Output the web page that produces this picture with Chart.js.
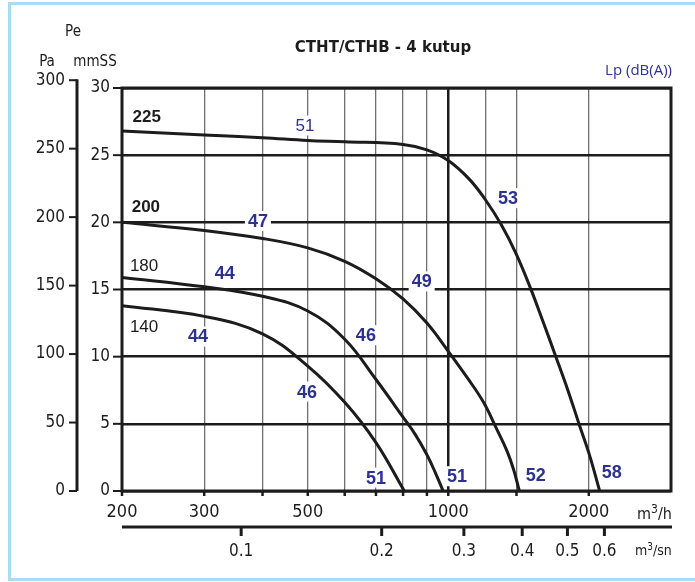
<!DOCTYPE html>
<html>
<head>
<meta charset="utf-8">
<title>CTHT/CTHB - 4 kutup</title>
<script src="https://cdn.jsdelivr.net/npm/chart.js@4.4.1/dist/chart.umd.min.js"></script>
<style>
  body { margin: 0; background: #fff; }
  canvas { display: block; }
</style>
</head>
<body>
<canvas id="fanChart" width="695" height="582"></canvas>
<script>
// axis ticks
var flowTicks = [200, 300, 400, 500, 600, 700, 800, 900, 1000, 1200, 1400, 2000, 3000];
var flowLabels = [200, 300, 500, 1000, 2000];
var mmssTicks = [0, 5, 10, 15, 20, 25, 30];
var paTicks = [0, 50, 100, 150, 200, 250, 300];
var secTicks = [0.1, 0.2, 0.3, 0.4, 0.5, 0.6];

// fan curves: flow in m3/h, pressure in mmSS
var flow225 = [200, 300, 400, 500, 600, 800, 900, 1000, 1110, 1200, 1300, 1400, 1500, 1600, 1700, 1800, 1910, 2010, 2110];
var pres225 = [26.8, 26.5, 26.3, 26.1, 26.0, 25.8, 25.4, 24.6, 23.2, 21.7, 19.8, 17.6, 15.1, 12.5, 10.0, 7.6, 4.9, 2.6, 0];
var flow200 = [200, 300, 400, 500, 600, 700, 800, 900, 1000, 1100, 1190, 1270, 1335, 1380, 1420];
var pres200 = [20.0, 19.4, 18.8, 18.1, 17.1, 15.8, 14.3, 12.5, 10.4, 8.4, 6.6, 4.6, 3.0, 1.6, 0];
var flow180 = [200, 300, 400, 500, 600, 700, 800, 850, 900, 940, 975];
var pres180 = [15.9, 15.2, 14.5, 13.4, 11.3, 8.3, 5.5, 4.2, 2.7, 1.3, 0];
var flow140 = [200, 300, 400, 500, 600, 700, 805];
var pres140 = [13.8, 13.0, 11.7, 9.3, 6.6, 3.6, 0];

// curve names and where they sit
var sizeNames = ["225", "200", "180", "140"];
var sizeFlow = [226, 225, 223, 223];
var sizePres = [27.85, 21.1, 16.75, 12.2];

// sound levels Lp dB(A) along the curves
var dbText = ["51", "47", "44", "44", "46", "46", "49", "53", "51", "51", "52", "58"];
var dbFlow = [493, 391, 332, 291, 498, 666, 877, 1342, 700, 1044, 1540, 2240];
var dbPres = [27.2, 20.1, 16.2, 11.5, 7.4, 11.6, 15.6, 21.8, 1.0, 1.1, 1.2, 1.4];

var PA_PER_MMSS = 9.81;
var M3H_PER_M3S = 3600;

var NARROW = "'DejaVu Sans Condensed', 'Liberation Sans Narrow', 'Liberation Sans', sans-serif";
var INK = "#1c1c1c";
var BLUE = "#2d3190";

function toPoints(xs, ys) {
  return xs.map(function (x, i) { return { x: x, y: ys[i] }; });
}

function drawUnit(ctx, x, y, base, sup, rest, size) {
  ctx.textAlign = "left";
  ctx.textBaseline = "alphabetic";
  ctx.font = size + "px " + NARROW;
  ctx.fillText(base, x, y);
  x += ctx.measureText(base).width;
  ctx.font = Math.round(size * 0.72) + "px " + NARROW;
  ctx.fillText(sup, x, y - size * 0.38);
  x += ctx.measureText(sup).width;
  ctx.font = size + "px " + NARROW;
  ctx.fillText(rest, x, y);
}

var decor = {
  id: "decor",
  beforeDraw: function (chart) {
    var ctx = chart.ctx;
    ctx.save();
    ctx.fillStyle = "#fff";
    ctx.fillRect(0, 0, chart.width, chart.height);
    ctx.strokeStyle = "#a6dcf4";
    ctx.lineWidth = 3;
    ctx.strokeRect(9.5, 3.5, 720, 576);
    ctx.restore();
  },
  beforeDatasetsDraw: function (chart) {
    // dB labels sit on a white patch that cuts the grid
    var ctx = chart.ctx, x = chart.scales.x, y = chart.scales.y;
    ctx.save();
    ctx.textAlign = "center";
    ctx.textBaseline = "middle";
    dbText.forEach(function (t, i) {
      var px = x.getPixelForValue(dbFlow[i]);
      var py = y.getPixelForValue(dbPres[i]);
      ctx.font = (i === 0 ? "17px " : "bold 18px ") + "Arial, 'Liberation Sans', sans-serif";
      var w = ctx.measureText(t).width;
      ctx.fillStyle = "#fff";
      ctx.fillRect(px - w / 2 - 3, py - 10, w + 6, 20);
      ctx.fillStyle = BLUE;
      ctx.fillText(t, px, py + 1);
    });
    ctx.restore();
  },
  afterDatasetsDraw: function (chart) {
    var ctx = chart.ctx, ca = chart.chartArea;
    var x = chart.scales.x, y = chart.scales.y;
    ctx.save();
    ctx.strokeStyle = INK;
    ctx.fillStyle = INK;

    // plot frame
    ctx.lineWidth = 3;
    ctx.strokeRect(ca.left, ca.top, ca.right - ca.left, ca.bottom - ca.top);

    // mmSS axis ticks + labels
    ctx.font = "17px " + NARROW;
    ctx.textAlign = "right";
    ctx.textBaseline = "middle";
    mmssTicks.forEach(function (v) {
      var py = y.getPixelForValue(v);
      ctx.lineWidth = 2;
      ctx.beginPath();
      ctx.moveTo(ca.left - 9, py);
      ctx.lineTo(ca.left, py);
      ctx.stroke();
      ctx.fillText(String(v), ca.left - 12, py);
    });

    // Pa axis, drawn apart on the left
    var paX = 77;
    var paTop = y.getPixelForValue(300 / PA_PER_MMSS);
    ctx.lineWidth = 3;
    ctx.beginPath();
    ctx.moveTo(paX, paTop - 1);
    ctx.lineTo(paX, ca.bottom);
    ctx.stroke();
    paTicks.forEach(function (v) {
      var py = y.getPixelForValue(v / PA_PER_MMSS);
      ctx.lineWidth = 2;
      ctx.beginPath();
      ctx.moveTo(paX - 8, py);
      ctx.lineTo(paX, py);
      ctx.stroke();
      ctx.fillText(String(v), paX - 12, py);
    });

    // flow axis (m3/h) tick marks + labels
    flowTicks.forEach(function (v) {
      if (v === 3000 || v === 1200) return;
      var px = x.getPixelForValue(v);
      ctx.lineWidth = 2.5;
      ctx.beginPath();
      ctx.moveTo(px, ca.bottom);
      ctx.lineTo(px, ca.bottom + 5);
      ctx.stroke();
    });
    ctx.font = "18px " + NARROW;
    ctx.textAlign = "center";
    flowLabels.forEach(function (v) {
      ctx.fillText(String(v), x.getPixelForValue(v), ca.bottom + 21);
    });
    drawUnit(ctx, 637, 519, "m", "3", "/h", 16);

    // second flow axis (m3/sn)
    var secY = 527;
    ctx.lineWidth = 3;
    ctx.beginPath();
    ctx.moveTo(ca.left, secY);
    ctx.lineTo(ca.right + 1, secY);
    ctx.stroke();
    ctx.font = "17px " + NARROW;
    ctx.textAlign = "center";
    ctx.textBaseline = "middle";
    secTicks.forEach(function (v) {
      var px = x.getPixelForValue(v * M3H_PER_M3S);
      ctx.lineWidth = 3;
      ctx.beginPath();
      ctx.moveTo(px, secY);
      ctx.lineTo(px, secY + 9);
      ctx.stroke();
      ctx.fillText(String(v), px, secY + 25);
    });
    drawUnit(ctx, 635, 555, "m", "3", "/sn", 14);

    // curve names
    ctx.textAlign = "center";
    ctx.textBaseline = "middle";
    sizeNames.forEach(function (t, i) {
      ctx.font = (i < 2 ? "bold 17px " : "17px ") + "Arial, 'Liberation Sans', sans-serif";
      ctx.fillText(t, x.getPixelForValue(sizeFlow[i]), y.getPixelForValue(sizePres[i]));
    });

    // headers
    ctx.font = "15px " + NARROW;
    ctx.fillText("Pe", 73, 32);
    ctx.fillText("Pa", 47, 62);
    ctx.fillText("mmSS", 95, 62);
    ctx.font = "bold 15px 'DejaVu Sans', Verdana, sans-serif";
    ctx.fillText("CTHT/CTHB - 4 kutup", 383, 48);
    ctx.font = "15px 'Open Sans', 'DejaVu Sans', sans-serif";
    ctx.fillStyle = BLUE;
    ctx.textAlign = "right";
    ctx.fillText("Lp (dB(A))", 672, 71);
    ctx.restore();
  }
};

var curveStyle = {
  borderColor: INK,
  borderWidth: 3,
  pointRadius: 0,
  fill: false,
  tension: 0.4
};

var fanChart = new Chart(document.getElementById("fanChart").getContext("2d"), {
  type: "line",
  data: {
    datasets: [
      Object.assign({ label: "225", data: toPoints(flow225, pres225) }, curveStyle),
      Object.assign({ label: "200", data: toPoints(flow200, pres200) }, curveStyle),
      Object.assign({ label: "180", data: toPoints(flow180, pres180) }, curveStyle),
      Object.assign({ label: "140", data: toPoints(flow140, pres140) }, curveStyle)
    ]
  },
  options: {
    responsive: false,
    animation: false,
    layout: { autoPadding: false, padding: { left: 122, top: 88, right: 24, bottom: 91 } },
    plugins: { legend: { display: false }, tooltip: { enabled: false } },
    scales: {
      x: {
        type: "logarithmic",
        min: 200,
        max: 3000,
        afterBuildTicks: function (scale) {
          scale.ticks = flowTicks.map(function (v) { return { value: v }; });
        },
        ticks: { display: false },
        border: { display: false },
        grid: {
          drawTicks: false,
          color: function (c) { return c.tick && c.tick.value === 1000 ? INK : "#707070"; },
          lineWidth: function (c) { return c.tick && c.tick.value === 1000 ? 2.5 : 1.3; }
        }
      },
      y: {
        type: "linear",
        min: 0,
        max: 30,
        afterBuildTicks: function (scale) {
          scale.ticks = mmssTicks.map(function (v) { return { value: v }; });
        },
        ticks: { display: false },
        border: { display: false },
        grid: { drawTicks: false, color: INK, lineWidth: 2.5 }
      }
    }
  },
  plugins: [decor]
});
</script>
</body>
</html>
